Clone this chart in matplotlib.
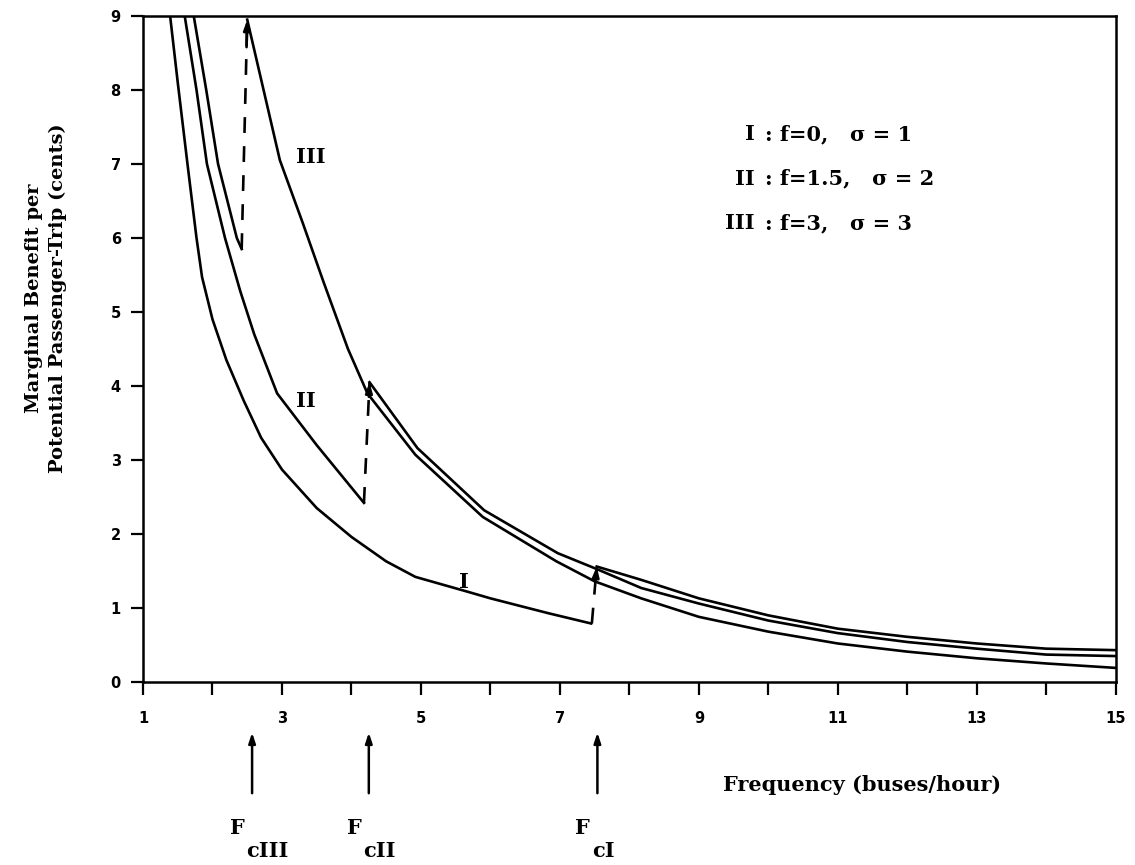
#!/usr/bin/env python3
"""Marginal benefit per potential passenger-trip vs. bus frequency."""

import matplotlib
matplotlib.use("Agg")
import matplotlib.pyplot as plt


# curve I (f=0, sigma=1), before and after its jump at F_cI
I_LEFT_X = [1.39, 1.5, 1.64, 1.77, 1.85, 2.0, 2.2, 2.45, 2.7, 3.0, 3.5, 4.0,
            4.5, 4.92, 5.67, 6.0, 6.83, 7.45]
I_LEFT_Y = [9.0, 8.1, 7.0, 6.0, 5.47, 4.9, 4.35, 3.8, 3.3, 2.87, 2.35, 1.96,
            1.63, 1.42, 1.22, 1.13, 0.93, 0.79]
I_RIGHT_X = [7.53, 8.17, 9, 10, 11, 12, 13, 14, 15]
I_RIGHT_Y = [1.56, 1.38, 1.13, 0.90, 0.72, 0.61, 0.52, 0.45, 0.43]

# curve II (f=1.5, sigma=2)
II_LEFT_X = [1.60, 1.77, 1.92, 2.18, 2.40, 2.6, 2.93, 3.5, 4.18]
II_LEFT_Y = [9.0, 8.0, 7.0, 6.0, 5.28, 4.7, 3.9, 3.2, 2.42]
II_RIGHT_X = [4.26, 4.95, 5.91, 6.97, 7.52, 8.17, 9, 10, 11, 12, 13, 14, 15]
II_RIGHT_Y = [4.05, 3.16, 2.32, 1.74, 1.53, 1.27, 1.06, 0.83, 0.66, 0.54,
              0.45, 0.37, 0.35]

# curve III (f=3, sigma=3)
III_LEFT_X = [1.73, 1.91, 2.08, 2.35, 2.42]
III_LEFT_Y = [9.0, 8.0, 7.0, 6.0, 5.85]
III_RIGHT_X = [2.50, 2.97, 3.3, 3.6, 3.95, 4.23, 4.92, 5.89, 6.95, 7.50, 8.17,
               9, 10, 11, 12, 13, 14, 15]
III_RIGHT_Y = [8.95, 7.05, 6.2, 5.4, 4.5, 3.9, 3.07, 2.23, 1.63, 1.36, 1.13,
               0.88, 0.68, 0.52, 0.41, 0.32, 0.25, 0.19]

# jumps at the critical frequencies: (x0, y0, x1, y1)
JUMPS = [(2.42, 5.85, 2.50, 8.95), (4.18, 2.42, 4.26, 4.05),
         (7.46, 0.79, 7.53, 1.56)]
FC_X = [2.57, 4.25, 7.54]
FC_NAMES = ["cIII", "cII", "cI"]

LEGEND_NUM = ["I", "II", "III"]
LEGEND_TXT = [": f=0,   σ = 1", ": f=1.5,   σ = 2", ": f=3,   σ = 3"]

X_TICKS = list(range(1, 16))
X_LABELS = [str(v) if v % 2 else "" for v in X_TICKS]
Y_TICKS = list(range(0, 10))

SERIF = "DejaVu Serif"
TXT = dict(family=SERIF, fontsize=15, fontweight="bold", color="black")
YTXT = dict(family=SERIF, fontsize=14, fontweight="bold", color="black")

fig = plt.figure(figsize=(11.35, 8.65), dpi=100)
ax = fig.add_axes([0.126, 0.2116, 0.857, 0.77])

lw = 1.9
for xs, ys in [(I_LEFT_X, I_LEFT_Y), (I_RIGHT_X, I_RIGHT_Y),
               (II_LEFT_X, II_LEFT_Y), (II_RIGHT_X, II_RIGHT_Y),
               (III_LEFT_X, III_LEFT_Y), (III_RIGHT_X, III_RIGHT_Y)]:
    ax.plot(xs, ys, color="black", lw=lw, solid_joinstyle="miter")

for x0, y0, x1, y1 in JUMPS:
    ax.plot([x0, x1], [y0, y1], color="black", lw=lw, dashes=(6, 5))
    frac = 0.12
    ax.annotate("", xy=(x1, y1),
                xytext=(x1 - (x1 - x0) * frac, y1 - (y1 - y0) * frac),
                arrowprops=dict(arrowstyle="-|>,head_length=0.6,head_width=0.2",
                                color="black", lw=lw, shrinkA=0, shrinkB=0))

# curve labels
ax.text(3.42, 7.1, "III", ha="center", va="center", **TXT)
ax.text(3.34, 3.8, "II", ha="center", va="center", **TXT)
ax.text(5.62, 1.35, "I", ha="center", va="center", **TXT)

# parameter key
for k, (num, txt) in enumerate(zip(LEGEND_NUM, LEGEND_TXT)):
    y = 7.40 - k * 0.60
    ax.text(9.80, y, num, ha="right", va="center", **TXT)
    ax.text(9.95, y, txt, ha="left", va="center", **TXT)

ax.set_xlim(1, 15)
ax.set_ylim(0, 9)
ax.set_xticks(X_TICKS)
ax.set_xticklabels(X_LABELS)
ax.set_yticks(Y_TICKS)
ax.tick_params(axis="both", direction="out", length=9, width=1.6,
               labelsize=10.5)
ax.tick_params(axis="x", pad=12)
ax.tick_params(axis="y", pad=7)
for lab in ax.get_xticklabels() + ax.get_yticklabels():
    lab.set_fontweight("bold")
for sp in ax.spines.values():
    sp.set_linewidth(1.8)

# critical-frequency arrows under the axis
xform = ax.get_xaxis_transform()
for xc, name in zip(FC_X, FC_NAMES):
    ax.annotate("", xy=(xc, -0.076), xytext=(xc, -0.167),
                xycoords=xform, textcoords=xform, annotation_clip=False,
                arrowprops=dict(arrowstyle="-|>,head_length=0.6,head_width=0.2",
                                color="black", lw=1.8, shrinkA=0, shrinkB=0))
    ax.text(xc - 0.32, -0.219, "F", transform=xform, ha="left", va="center",
            clip_on=False, **TXT)
    ax.text(xc - 0.08, -0.254, name, transform=xform, ha="left", va="center",
            clip_on=False, **TXT)

ax.text(9.35, -0.155, "Frequency (buses/hour)", transform=xform, ha="left",
        va="center", clip_on=False, **TXT)

# y-axis title, two lines
fig.text(0.030, 0.655, "Marginal Benefit per", rotation=90, ha="center",
         va="center", **YTXT)
fig.text(0.051, 0.655, "Potential Passenger-Trip (cents)", rotation=90,
         ha="center", va="center", **YTXT)

fig.savefig("out.png", dpi=100, facecolor="white")
